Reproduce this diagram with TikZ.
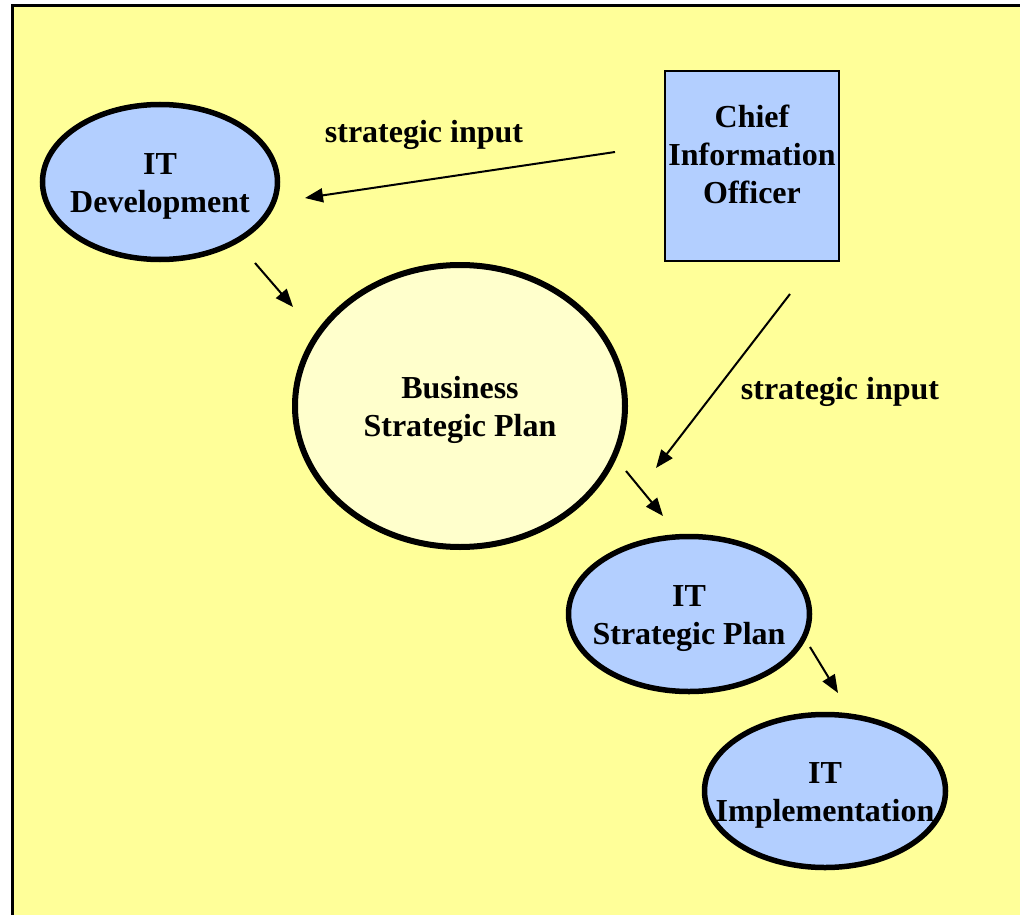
\documentclass[tikz,border=0pt]{standalone}
\usepackage{fontspec}
\setmainfont{Liberation Serif}
\usetikzlibrary{shapes.geometric,arrows.meta}
\definecolor{paper}{HTML}{FFFF99}
\definecolor{itblue}{HTML}{B3CFFF}
\definecolor{planfill}{HTML}{FFFFCC}
\newcommand{\flow}[2]{\draw[arr] (#1) -- (#2);}

\begin{document}
\begin{tikzpicture}[x=1pt,y=-1pt,
  oval/.style={ellipse,draw,line width=5.5pt,inner sep=0pt},
  lbl/.style={font=\bfseries\fontsize{32}{38}\selectfont,align=center,inner sep=0pt},
  arr/.style={line width=2pt,-{Triangle[length=18pt,width=14pt]}}]
  \useasboundingbox (0,0) rectangle (1020,915);
  \clip (0,0) rectangle (1020,915);

  % fondo
  \draw[fill=paper,line width=3pt] (12,6) rectangle (1040,940);

  % elipses
  \node[oval,fill=itblue,minimum width=235,minimum height=155] (itdev) at (160,182) {};
  \node[oval,fill=planfill,line width=6pt,minimum width=330,minimum height=282] (bsp) at (460,406) {};
  \node[oval,fill=itblue,minimum width=241,minimum height=155] (itsp) at (689,614) {};
  \node[oval,fill=itblue,minimum width=241,minimum height=153] (impl) at (825,791) {};
  \node[draw,fill=itblue,line width=2pt,minimum width=174,minimum height=190,inner sep=0pt] (cio) at (752,166) {};

  % textos
  \node[lbl] (itdev-t) at ([yshift=-4pt]itdev) {IT\\Development};
  \node[lbl] (bsp-t) at ([yshift=-4pt]bsp) {Business\\Strategic Plan};
  \node[lbl] (itsp-t) at ([yshift=-5pt]itsp) {IT\\Strategic Plan};
  \node[lbl] (impl-t) at ([yshift=-4pt]impl) {IT\\Implementation};
  \node[lbl] (cio-t) at ([yshift=12pt]cio.center) {Chief\\Information\\Officer};
  \node[lbl] (in1) at (424,135) {strategic input};
  \node[lbl] (in2) at (840,392) {strategic input};

  % extremos de flechas
  \coordinate (cio-w) at (615,152);
  \coordinate (itdev-e) at (305,198);
  \coordinate (cio-s) at (790,294);
  \coordinate (itsp-n) at (656,468);
  \coordinate (itdev-se) at (255,263);
  \coordinate (bsp-nw) at (293,307);
  \coordinate (bsp-se) at (626,471);
  \coordinate (itsp-nw) at (663,516);
  \coordinate (itsp-se) at (810,647);
  \coordinate (impl-nw) at (838,693);

  % flechas
  \flow{cio-w}{itdev-e}
  \flow{cio-s}{itsp-n}
  \flow{itdev-se}{bsp-nw}
  \flow{bsp-se}{itsp-nw}
  \flow{itsp-se}{impl-nw}
\end{tikzpicture}
\end{document}
